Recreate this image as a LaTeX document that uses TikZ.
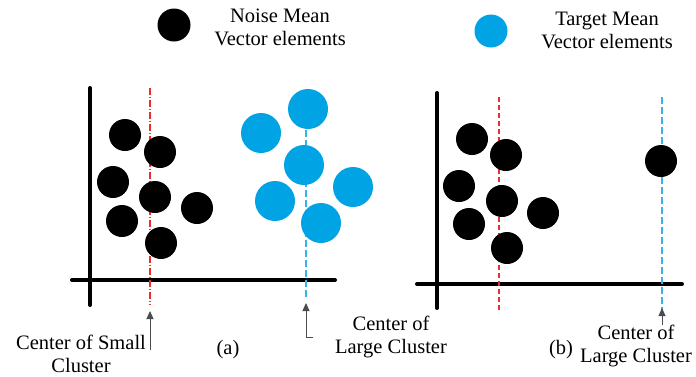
\documentclass[tikz,border=0pt]{standalone}
\usepackage{fontspec}
\setmainfont{Liberation Serif}
\usepackage{tikz}
\usetikzlibrary{shapes.geometric, arrows, arrows.meta}
\definecolor{targetblue}{RGB}{0,163,228}
\definecolor{centerred}{RGB}{235,45,45}
\tikzstyle{noise} = [circle, fill=black, minimum size=32pt, inner sep=0pt]
\tikzstyle{target} = [circle, fill=targetblue, minimum size=40pt, inner sep=0pt]
\tikzstyle{label} = [align=center, font=\fontsize{20.5}{23}\selectfont, inner sep=0pt]
\tikzstyle{axis} = [line width=4pt, line cap=round]
\tikzstyle{smallline} = [centerred, line width=1.1pt, dash pattern=on 7pt off 2pt on 1pt off 2pt]
\tikzstyle{largeline} = [targetblue!80, line width=1.1pt, dash pattern=on 7pt off 3pt]
\tikzstyle{pointer} = [-{Triangle[length=8pt, width=7pt]}, draw=black!70, line width=1pt]

\begin{document}
\begin{tikzpicture}[x=1pt, y=-1pt]
        \useasboundingbox (0,0) rectangle (696,376);

        % legend
        \node[noise, minimum size=33pt] (legNoise) at (174,25) {};
        \node[label] (legNoiseText) at (280,27) {Noise Mean\\Vector elements};
        \node[target, minimum size=33pt] (legTarget) at (491,31) {};
        \node[label] (legTargetText) at (607,30) {Target Mean\\Vector elements};

        % panel (a)
        \draw[axis] (90,88) -- (90,305);
        \draw[axis] (72,280) -- (335,280);
        \draw[smallline] (150,88) -- (150,305);
        \draw[largeline] (306,90) -- (306,300);
        \node[noise] (a1) at (125,135) {};
        \node[noise] (a2) at (160,152) {};
        \node[noise] (a3) at (113,182) {};
        \node[noise] (a4) at (155,197) {};
        \node[noise] (a5) at (197,208) {};
        \node[noise] (a6) at (122,221) {};
        \node[noise] (a7) at (161,243) {};
        \node[target] (t1) at (261,133) {};
        \node[target] (t2) at (308,109) {};
        \node[target] (t3) at (304,165) {};
        \node[target] (t4) at (353,187) {};
        \node[target] (t5) at (275,201) {};
        \node[target] (t6) at (321,223) {};

        \node[label] (smallA) at (81,354) {Center of Small\\Cluster};
        \node[label] (largeA) at (391,337) {Center of\\Large Cluster};
        \node[label] (capA) at (228,350) {(a)};
        \coordinate (smallTipA) at (150,311);
        \coordinate (smallEndA) at (150,350);
        \coordinate (largeTipA) at (306,303);
        \coordinate (largeEndA) at (313,337);
        \draw[pointer] (smallEndA) -- (smallTipA);
        \draw[pointer] (largeEndA) -| (largeTipA);

        % panel (b)
        \draw[axis] (437,93) -- (437,308);
        \draw[axis] (417,284) -- (682,284);
        \draw[smallline, dash pattern=on 5pt off 3pt] (499,97) -- (499,310);
        \draw[largeline] (662,97) -- (662,310);
        \node[noise] (b1) at (472,139) {};
        \node[noise] (b2) at (506,155) {};
        \node[noise] (b3) at (459,186) {};
        \node[noise] (b4) at (502,201) {};
        \node[noise] (b5) at (543,213) {};
        \node[noise] (b6) at (469,224) {};
        \node[noise] (b7) at (507,248) {};
        \node[noise] (b8) at (661,161) {};

        \node[label] (largeB) at (636,346) {Center of\\Large Cluster};
        \node[label] (capB) at (561,350) {(b)};
        \coordinate (largeTipB) at (662,308);
        \draw[pointer] (largeB.north -| largeTipB) -- (largeTipB);
    \end{tikzpicture}
\end{document}
